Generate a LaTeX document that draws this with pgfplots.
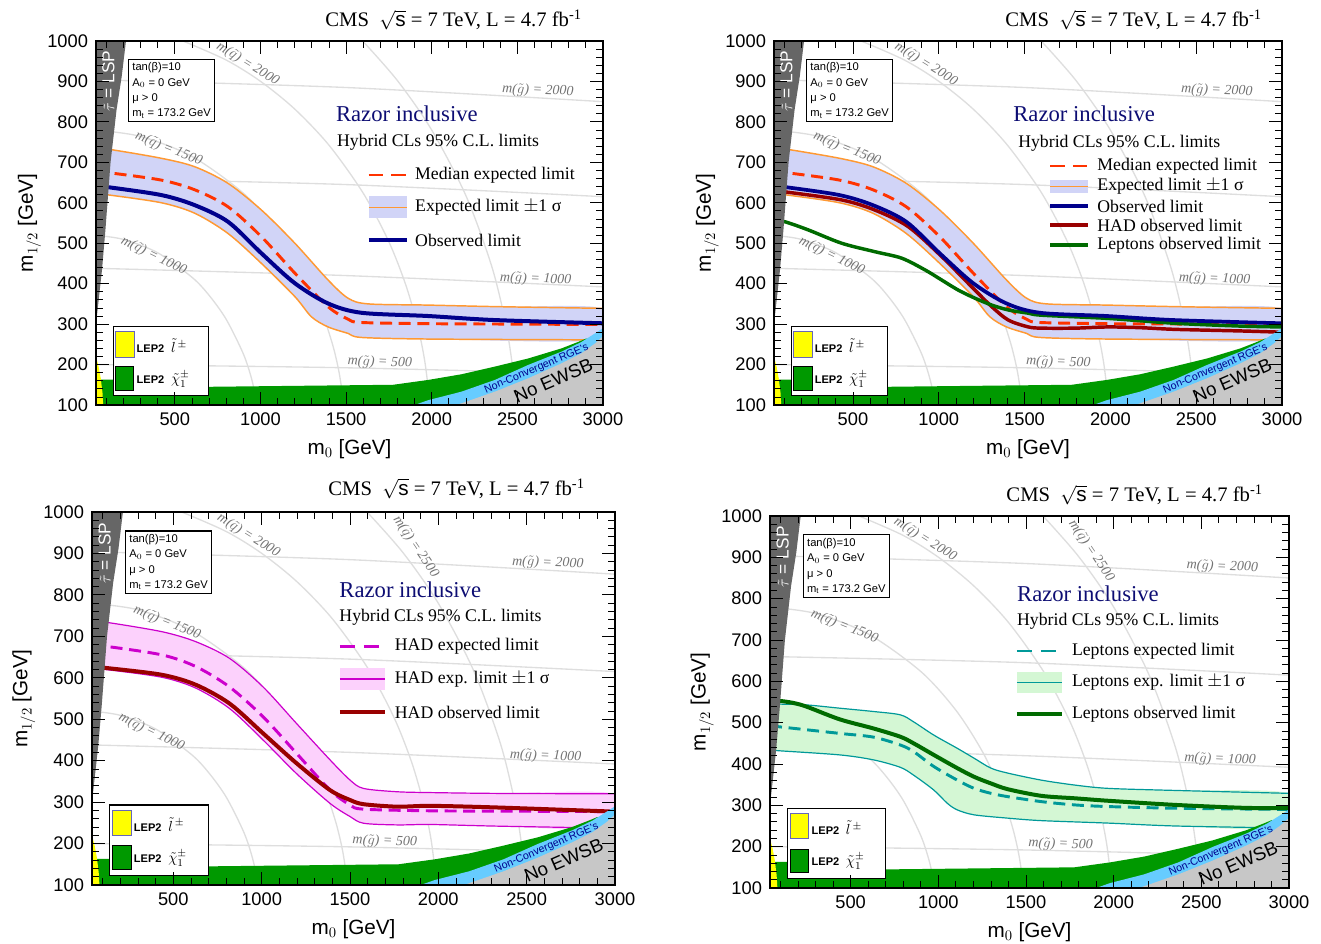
\documentclass[border=0pt]{standalone}
\usepackage{fontspec}
\setmainfont{Liberation Sans}
\newfontfamily\serif{Liberation Serif}
\usepackage{pgfplots}
\pgfplotsset{compat=1.18}

\definecolor{isogrey}{gray}{0.87}
\definecolor{isotext}{gray}{0.45}
\definecolor{bandblue}{rgb}{0.82,0.83,0.97}
\definecolor{bandorange}{rgb}{1,0.6,0.2}
\definecolor{medred}{rgb}{1,0.2,0}
\definecolor{obsblue}{rgb}{0,0,0.55}
\definecolor{hadred}{rgb}{0.6,0,0}
\definecolor{lepgreen}{rgb}{0,0.42,0}
\definecolor{magenta2}{rgb}{0.8,0,0.8}
\definecolor{bandpink}{rgb}{0.99,0.82,0.99}
\definecolor{teal2}{rgb}{0,0.6,0.6}
\definecolor{bandgreen}{rgb}{0.83,0.97,0.83}
\definecolor{lepfill}{rgb}{0,0.6,0}
\definecolor{lepyellow}{rgb}{1,1,0}
\definecolor{rgeblue}{rgb}{0.4,0.8,1}
\definecolor{rgetext}{rgb}{0,0,0.55}
\definecolor{ewsbgrey}{gray}{0.78}
\definecolor{wedgegrey}{gray}{0.4}
\definecolor{razornavy}{rgb}{0.05,0.05,0.45}

\tikzset{
  isolabel/.style={font=\serif\itshape\fontsize{10.5}{12}\selectfont, text=isotext, inner sep=0pt},
  legtext/.style={font=\serif\fontsize{13.3}{15}\selectfont, anchor=west, inner sep=0pt},
}
\pgfplotsset{
  cmsaxis/.style={
    scale only axis, anchor=south west,
    xmin=40, xmax=3000, ymin=100, ymax=1000,
    xtick={500,1000,1500,2000,2500,3000},
    ytick={100,200,300,400,500,600,700,800,900,1000},
    minor xtick={100,200,...,2900},
    minor ytick={120,140,...,980},
    tick align=inside,
    major tick length=10pt, minor tick length=5pt,
    tick style={black, line width=0.6pt},
    axis line style={line width=0.9pt},
    axis on top,
    tick label style={font=\fontsize{13.7}{16}\selectfont},
    yticklabel style={xshift=-2.5pt},
    xticklabel style={yshift=-2pt},
    /pgf/number format/assume math mode=true,
    /pgf/number format/1000 sep={},
    xlabel={m$_0$ [GeV]},
    ylabel={m$_{1/2}$ [GeV]},
    label style={font=\fontsize{15.5}{18}\selectfont},
    xlabel style={at={(axis description cs:0.5,0)}, anchor=north, yshift=-26pt, inner sep=0pt},
    ylabel style={at={(axis description cs:-0.108,0.5)}, anchor=south, inner sep=0pt},
    title style={font=\serif\fontsize{15.5}{18}\selectfont, anchor=east, inner sep=0pt},
    title={CMS \ $\sqrt{\mathrm{s}}$ = 7 TeV, L = 4.7 fb\textsuperscript{-1}},
  },
  isoline/.style={smooth, color=isogrey, line width=1pt, forget plot},
}

\newcommand{\IsoLines}{%
\addplot[isoline] coordinates {(40,519.5) (200,509.4) (400,476.5) (600,415.9) (700,371.3) (800,311.9) (900,226.6) (950,162.3) (982,98)};
\addplot[isoline] coordinates {(40,779.5) (300,764.1) (600,714.7) (900,623.8) (1100,530.2) (1250,431.1) (1350,339.9) (1420,251.3) (1460,178.9) (1488,98)};
\addplot[isoline] coordinates {(547.7,1000) (800,952.9) (1000,900.4) (1200,831.8) (1400,742.5) (1600,623.8) (1750,503.4) (1850,395.1) (1920,291.1) (1960,206.9) (1990,103.8)};
\addplot[isoline] coordinates {(1597,1000) (1800,902) (2000,779.8) (2200,617.3) (2350,443.4) (2430,305.4) (2470,200.7) (2493,97.2)};
\addplot[isoline] coordinates {(40,200) (1500,192) (3000,176)};
\addplot[isoline] coordinates {(40,438) (1500,420) (3000,392)};
\addplot[isoline] coordinates {(40,660) (1500,645) (3000,615)};
\addplot[isoline] coordinates {(40,904) (1500,885) (3000,850)};
\node[isolabel, rotate=-32] at (axis cs:926,943) {m($\tilde{q}$) = 2000};
\node[isolabel, rotate=-22] at (axis cs:465,733) {m($\tilde{q}$) = 1500};
\node[isolabel, rotate=-26] at (axis cs:377,469) {m($\tilde{q}$) = 1000};
\node[isolabel, rotate=-2] at (axis cs:2620,877) {m($\tilde{g}$) = 2000};
\node[isolabel, rotate=-2] at (axis cs:2607,411) {m($\tilde{g}$) = 1000};
\node[isolabel, rotate=-2] at (axis cs:1697,205) {m($\tilde{g}$) = 500};
}

\newcommand{\Regions}{%
\addplot[fill=lepfill, draw=none] coordinates {(40,100) (40,163) (600,163) (640,146) (700,145) (1775,150) (1980,162) (2174,176) (2369,195) (2563,215) (2758,240) (2855,256) (2900,264) (3000,264) (3000,100)} -- cycle;
\addplot[fill=rgeblue, draw=none] coordinates {(1900,100) (1980,112) (2174,133) (2369,162) (2563,199) (2758,232) (2875,256) (2953,277) (3000,290) (3000,100)} -- cycle;
\addplot[fill=ewsbgrey, draw=none] coordinates {(2145,100) (2369,133) (2563,166) (2758,203) (2875,228) (2953,252) (3000,270) (3000,100)} -- cycle;
\addplot[fill=lepyellow, draw=none] coordinates {(40,100) (40,220) (55,195) (68,165) (78,130) (82,100)} -- cycle;
\addplot[fill=wedgegrey, draw=none] coordinates {(40,300) (75,434) (95,533) (125,700) (160,830) (190,912) (215,1000) (40,1000)} -- cycle;
\node[rotate=90, text=white, font=\fontsize{13}{15}\selectfont, inner sep=0pt] at (axis cs:112,901) {$\tilde{\tau}$ = LSP};
\node[rotate=23, text=rgetext, font=\fontsize{8}{9}\selectfont, inner sep=0pt] at (axis cs:2612,189) {Non-Convergent RGE's};
\node[rotate=23.5, font=\fontsize{14}{16}\selectfont, inner sep=0pt] at (axis cs:2710,160) {No EWSB};
\node[draw, fill=white, line width=0.8pt, anchor=north west, align=left, inner xsep=3pt, inner ysep=2.5pt, font=\fontsize{8.4}{11.5}\selectfont] at (axis cs:226,955.5) {tan(β)=10\\A$_0$ = 0 GeV\\μ > 0\\m$_\mathrm{t}$ = 173.2 GeV};
\draw[fill=white, line width=0.8pt] (axis cs:140,123) rectangle (axis cs:699,293);
\draw[fill=lepyellow, draw=obsblue!60, line width=0.5pt] (axis cs:155,219) rectangle (axis cs:261,281);
\draw[fill=lepfill, draw=black, line width=0.6pt] (axis cs:155,137) rectangle (axis cs:261,194.5);
\node[anchor=west, inner sep=0pt, font=\bfseries\fontsize{8.3}{10}\selectfont] at (axis cs:276,246) {LEP2\hspace{5pt}{\normalfont\fontsize{11}{12}\selectfont$\tilde{l}^{\,\pm}$}};
\node[anchor=west, inner sep=0pt, font=\bfseries\fontsize{8.3}{10}\selectfont] at (axis cs:276,164) {LEP2\hspace{5pt}{\normalfont\fontsize{11}{12}\selectfont$\tilde{\chi}^{\pm}_{1}$}};
}

\begin{document}
\begin{tikzpicture}
\path[use as bounding box] (0,0) rectangle (990.75pt,707.25pt);

% ---------------- Panel 1 (top left)
\begin{axis}[cmsaxis, at={(72pt,403.5pt)}, width=380.25pt, height=273pt,
  title style={at={(axis description cs:0.9586,1)}, yshift=9.75pt}]
\IsoLines
\addplot[fill=bandblue, draw=none, smooth] coordinates {(40,735) (120,732) (422,710) (617,689) (811,648) (1006,582) (1201,500) (1395,409) (1512,364) (1629,350) (1979,347) (2400,343) (3000,339) (3000,261) (2000,263) (1590,267) (1512,277) (1395,293) (1298,318) (1201,368) (1006,450) (811,524) (617,574) (422,600) (120,619) (40,622)} -- cycle;
\addplot[bandorange, line width=1.1pt, smooth] coordinates {(40,735) (120,732) (422,710) (617,689) (811,648) (1006,582) (1201,500) (1395,409) (1512,364) (1629,350) (1979,347) (2400,343) (3000,339)};
\addplot[bandorange, line width=1.1pt, smooth] coordinates {(40,622) (120,619) (422,600) (617,574) (811,524) (1006,450) (1201,368) (1298,318) (1395,293) (1512,277) (1590,267) (2000,263) (3000,261)};
\addplot[medred, line width=2.2pt, dash pattern=on 9pt off 5pt, smooth] coordinates {(40,677) (120,674) (422,656) (617,632) (811,590) (1006,516) (1201,426) (1395,343) (1512,312) (1590,304) (2000,301) (2500,300) (3000,299)};
\addplot[obsblue, line width=3pt, smooth] coordinates {(40,641) (120,638) (422,619) (617,594) (811,553) (1006,475) (1201,401) (1395,351) (1590,328) (1979,320) (2368,310) (3000,302)};
\Regions
\node[anchor=west, inner sep=0pt, text=razornavy, font=\serif\fontsize{17}{20}\selectfont] at (axis cs:1440,819.5) {Razor inclusive};
\node[legtext] at (axis cs:1446,748.5) {Hybrid CLs 95\% C.L. limits};
\draw[medred, line width=2.2pt, dash pattern=on 11pt off 6pt] (axis cs:1631,668.6) -- (axis cs:1853,668.6);
\fill[bandblue] (axis cs:1631,561.5) rectangle (axis cs:1853,617);
\draw[bandorange, line width=1.1pt] (axis cs:1631,587.8) -- (axis cs:1853,587.8);
\draw[obsblue, line width=3pt] (axis cs:1631,507.9) -- (axis cs:1853,507.9);
\node[legtext] at (axis cs:1902,668.6) {Median expected limit};
\node[legtext] at (axis cs:1902,587.8) {Expected limit $\pm$1 σ};
\node[legtext] at (axis cs:1902,507.9) {Observed limit};
\end{axis}

% ---------------- Panel 2 (top right)
\begin{axis}[cmsaxis, at={(580.5pt,403.5pt)}, width=381pt, height=273pt,
  title style={at={(axis description cs:0.9606,1)}, yshift=9.75pt}]
\IsoLines
\addplot[fill=bandblue, draw=none, smooth] coordinates {(40,735) (120,732) (422,710) (617,689) (811,648) (1006,582) (1201,500) (1395,409) (1512,364) (1629,350) (1979,347) (2400,343) (3000,339) (3000,261) (2000,263) (1590,267) (1512,277) (1395,293) (1298,318) (1201,368) (1006,450) (811,524) (617,574) (422,600) (120,619) (40,622)} -- cycle;
\addplot[bandorange, line width=1.1pt, smooth] coordinates {(40,735) (120,732) (422,710) (617,689) (811,648) (1006,582) (1201,500) (1395,409) (1512,364) (1629,350) (1979,347) (2400,343) (3000,339)};
\addplot[bandorange, line width=1.1pt, smooth] coordinates {(40,622) (120,619) (422,600) (617,574) (811,524) (1006,450) (1201,368) (1298,318) (1395,293) (1512,277) (1590,267) (2000,263) (3000,261)};
\addplot[medred, line width=2.2pt, dash pattern=on 9pt off 5pt, smooth] coordinates {(40,677) (120,674) (422,656) (617,632) (811,590) (1006,516) (1201,426) (1395,343) (1512,312) (1590,304) (2000,301) (2500,300) (3000,299)};
\addplot[hadred, line width=2.6pt, smooth] coordinates {(40,630) (104,627) (434,607) (628,582) (822,541) (1017,467) (1211,384) (1309,343) (1405,310) (1522,293) (1600,290) (1794,290) (1989,293) (2183,291) (2377,287) (2766,283) (3000,280)};
\addplot[lepgreen, line width=2.6pt, smooth] coordinates {(40,556) (104,553) (239,533) (434,500) (628,479) (784,463) (920,434) (1017,409) (1114,384) (1211,364) (1309,347) (1405,335) (1522,327) (1600,322) (1989,314) (2377,302) (2766,295) (3000,293)};
\addplot[obsblue, line width=2.8pt, smooth] coordinates {(40,641) (120,638) (422,619) (617,594) (811,553) (1006,475) (1201,401) (1395,351) (1590,328) (1979,320) (2368,310) (3000,302)};
\Regions
\node[anchor=west, inner sep=0pt, text=razornavy, font=\serif\fontsize{17}{20}\selectfont] at (axis cs:1433,819.5) {Razor inclusive};
\node[legtext] at (axis cs:1462,748) {Hybrid CLs 95\% C.L. limits};
\draw[medred, line width=2.2pt, dash pattern=on 11pt off 6pt] (axis cs:1649,691) -- (axis cs:1870,691);
\fill[bandblue] (axis cs:1649,623) rectangle (axis cs:1870,657);
\draw[bandorange, line width=1.1pt] (axis cs:1649,640) -- (axis cs:1870,640);
\draw[obsblue, line width=2.8pt] (axis cs:1649,592) -- (axis cs:1870,592);
\draw[hadred, line width=2.6pt] (axis cs:1649,545) -- (axis cs:1870,545);
\draw[lepgreen, line width=2.6pt] (axis cs:1649,496) -- (axis cs:1870,496);
\node[legtext] at (axis cs:1923,691) {Median expected limit};
\node[legtext] at (axis cs:1923,640) {Expected limit $\pm$1 σ};
\node[legtext] at (axis cs:1923,592) {Observed limit};
\node[legtext] at (axis cs:1923,545) {HAD observed limit};
\node[legtext] at (axis cs:1923,496) {Leptons observed limit};
\end{axis}

% ---------------- Panel 3 (bottom left)
\begin{axis}[cmsaxis, at={(69pt,43.5pt)}, width=392.25pt, height=279.75pt,
  title style={at={(axis description cs:0.9426,1)}, yshift=11.5pt}]
\IsoLines
\node[isolabel, rotate=-56] at (axis cs:1872,916) {m($\tilde{q}$) = 2500};
\addplot[fill=bandpink, draw=none, smooth] coordinates {(40,736) (135,733) (438,711) (628,687) (818,647) (1008,578) (1197,490) (1387,402) (1501,353) (1577,333) (1767,325) (1957,323) (2336,321) (3000,320) (3000,237) (2336,242) (1957,246) (1767,245) (1577,249) (1501,265) (1387,297) (1197,369) (1008,450) (818,526) (628,575) (438,601) (135,619) (40,622)} -- cycle;
\addplot[magenta2, line width=0.9pt, smooth] coordinates {(40,736) (135,733) (438,711) (628,687) (818,647) (1008,578) (1197,490) (1387,402) (1501,353) (1577,333) (1767,325) (1957,323) (2336,321) (3000,320)};
\addplot[magenta2, line width=0.9pt, smooth] coordinates {(40,622) (135,619) (438,601) (628,575) (818,526) (1008,450) (1197,369) (1387,297) (1501,265) (1577,249) (1767,245) (1957,246) (2336,242) (3000,237)};
\addplot[magenta2, line width=2.2pt, dash pattern=on 9pt off 5pt, smooth] coordinates {(40,678) (135,675) (438,655) (628,627) (818,578) (1008,506) (1197,418) (1387,329) (1501,293) (1577,283) (1957,279) (2500,278) (3000,277)};
\addplot[hadred, line width=3pt, smooth] coordinates {(40,626) (135,623) (438,607) (628,583) (818,538) (1008,466) (1197,394) (1387,329) (1501,305) (1577,295) (1767,289) (1957,291) (2336,287) (3000,277)};
\Regions
\node[anchor=west, inner sep=0pt, text=razornavy, font=\serif\fontsize{17}{20}\selectfont] at (axis cs:1439,811.8) {Razor inclusive};
\node[legtext] at (axis cs:1439,745) {Hybrid CLs 95\% C.L. limits};
\draw[magenta2, line width=2.2pt, dash pattern=on 11pt off 7pt] (axis cs:1443,675) -- (axis cs:1698,675);
\fill[bandpink] (axis cs:1443,570.5) rectangle (axis cs:1698,623.6);
\draw[magenta2, line width=0.9pt] (axis cs:1443,597) -- (axis cs:1698,597);
\draw[hadred, line width=3pt] (axis cs:1443,517.4) -- (axis cs:1698,517.4);
\node[legtext] at (axis cs:1753,675) {HAD expected limit};
\node[legtext] at (axis cs:1753,597) {HAD exp. limit $\pm$1 σ};
\node[legtext] at (axis cs:1753,517.4) {HAD observed limit};
\end{axis}

% ---------------- Panel 4 (bottom right)
\begin{axis}[cmsaxis, at={(577.5pt,41.25pt)}, width=389.25pt, height=279pt,
  title style={at={(axis description cs:0.95,1)}, yshift=9.5pt}]
\IsoLines
\node[isolabel, rotate=-56] at (axis cs:1872,916) {m($\tilde{q}$) = 2500};
\addplot[fill=bandgreen, draw=none, smooth] coordinates {(40,547) (93,545) (247,543) (438,535) (630,527) (783,519) (859,502) (974,470) (1108,438) (1204,414) (1300,390) (1396,378) (1587,361) (1779,349) (1970,341) (2353,336) (3000,329) (3000,245) (2353,250) (1970,257) (1587,263) (1396,269) (1204,277) (1108,289) (1051,305) (974,337) (859,373) (783,392) (630,410) (438,422) (93,432) (40,434)} -- cycle;
\addplot[teal2, line width=0.9pt, smooth] coordinates {(40,547) (93,545) (247,543) (438,535) (630,527) (783,519) (859,502) (974,470) (1108,438) (1204,414) (1300,390) (1396,378) (1587,361) (1779,349) (1970,341) (2353,336) (3000,329)};
\addplot[teal2, line width=0.9pt, smooth] coordinates {(40,434) (93,432) (438,422) (630,410) (783,392) (859,373) (974,337) (1051,305) (1108,289) (1204,277) (1396,269) (1587,263) (1970,257) (2353,250) (3000,245)};
\addplot[teal2, line width=2.2pt, dash pattern=on 9pt off 5pt, smooth] coordinates {(40,492) (93,490) (438,474) (630,465) (783,446) (859,430) (974,394) (1108,361) (1204,341) (1300,329) (1396,321) (1587,309) (1779,301) (1970,297) (2353,293) (3000,290)};
\addplot[lepgreen, line width=3pt, smooth] coordinates {(40,556) (93,553) (170,548) (247,539) (438,508) (630,486) (783,466) (859,450) (974,422) (1108,390) (1204,369) (1300,353) (1396,339) (1587,323) (1779,317) (1970,311) (2353,301) (2740,294) (3000,293)};
\Regions
\node[anchor=west, inner sep=0pt, text=razornavy, font=\serif\fontsize{17}{20}\selectfont] at (axis cs:1448,811.3) {Razor inclusive};
\node[legtext] at (axis cs:1448,744.3) {Hybrid CLs 95\% C.L. limits};
\draw[teal2, line width=2.2pt, dash pattern=on 11pt off 7pt] (axis cs:1448,673.4) -- (axis cs:1704,673.4);
\fill[bandgreen] (axis cs:1448,571) rectangle (axis cs:1704,623);
\draw[teal2, line width=0.9pt] (axis cs:1448,597.7) -- (axis cs:1704,597.7);
\draw[lepgreen, line width=3pt] (axis cs:1448,521) -- (axis cs:1704,521);
\node[legtext] at (axis cs:1761,673.4) {Leptons expected limit};
\node[legtext] at (axis cs:1761,597.7) {Leptons exp. limit $\pm$1 σ};
\node[legtext] at (axis cs:1761,521) {Leptons observed limit};
\end{axis}
\end{tikzpicture}
\end{document}
